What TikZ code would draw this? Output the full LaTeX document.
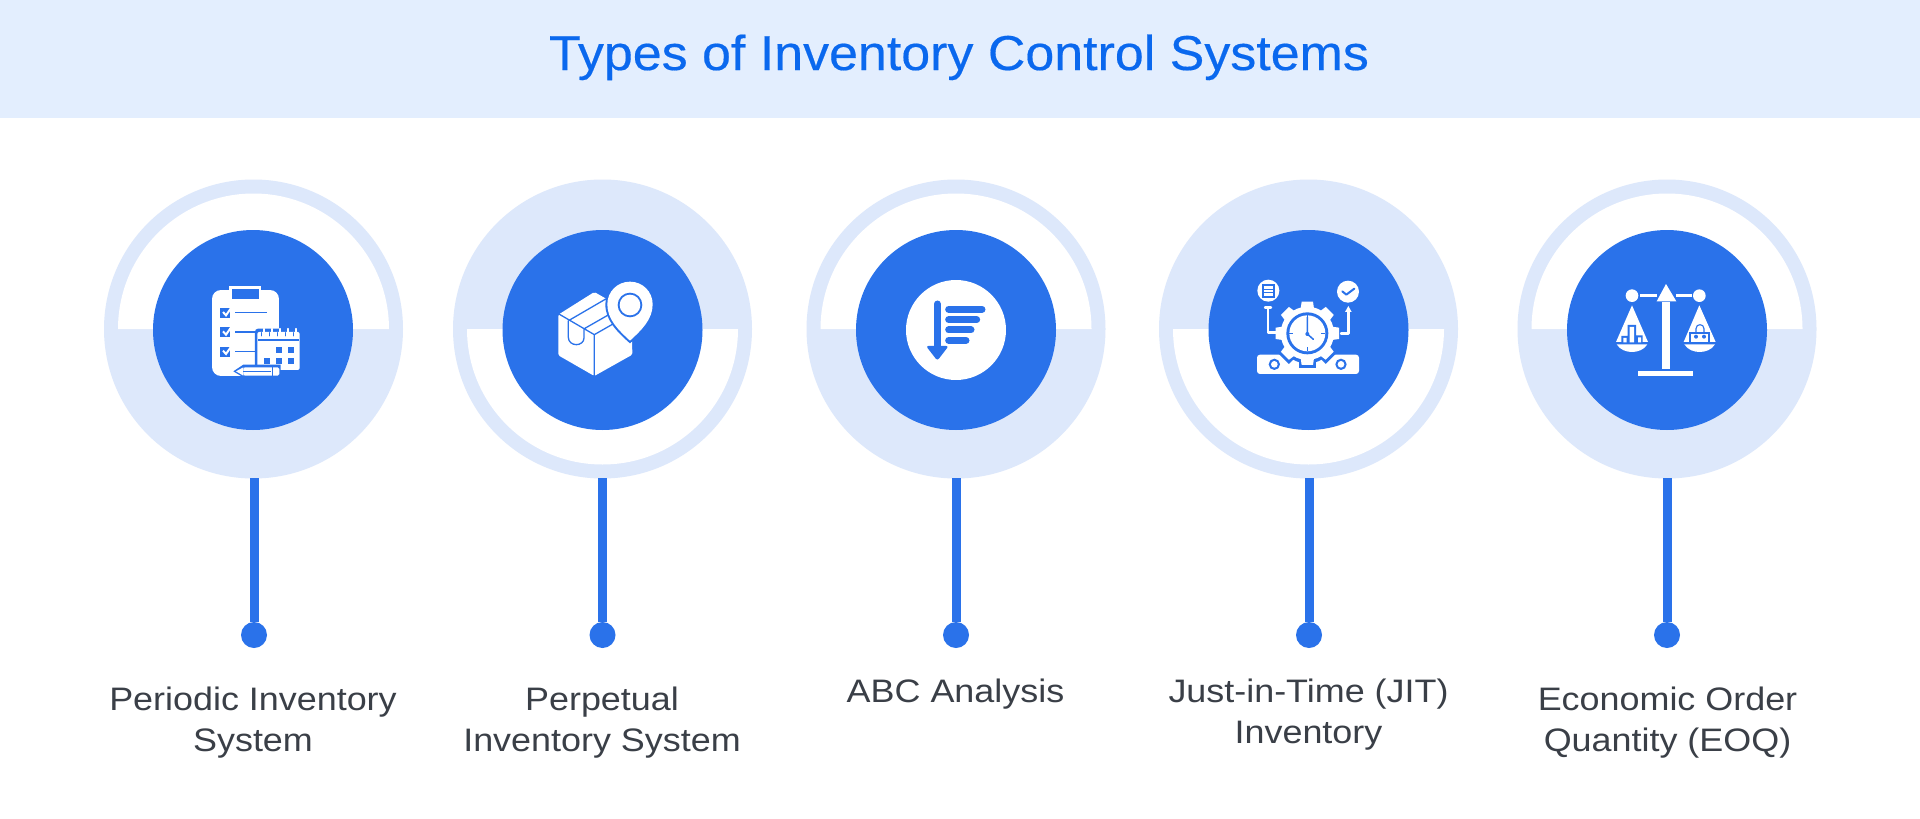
\documentclass[tikz,border=0pt]{standalone}
\usepackage{fontspec}
\setmainfont[FakeStretch=1.105]{Liberation Sans}
\newfontfamily\ttlfont[FakeBold=0.35,FakeStretch=1.06]{Liberation Sans}
\definecolor{hdr}{HTML}{E3EEFE}
\definecolor{ring}{HTML}{DDE8FB}
\definecolor{blu}{HTML}{2A72EA}
\definecolor{ttl}{HTML}{0A68EE}
\definecolor{txt}{HTML}{3A3F47}
\tikzset{
 lbl/.style={font=\fontsize{32.5}{41}\selectfont,text=txt,align=center,inner sep=0pt},
 hub/.style={circle,fill=blu,minimum size=200pt,inner sep=0pt},
 dotn/.style={circle,fill=blu,minimum size=26pt,inner sep=0pt},
 stem/.style={draw=blu,line width=9pt},
 icw/.style={draw=white,line width=2.4pt,line cap=round,line join=round},
}
\begin{document}
\begin{tikzpicture}[x=1pt,y=-1pt]
\useasboundingbox (0,0) rectangle (1920,819);
\fill[white] (0,0) rectangle (1920,819);
\fill[hdr] (0,0) rectangle (1920,118);
\node[font=\ttlfont\fontsize{49}{58}\selectfont,text=ttl,inner sep=0pt,anchor=base] (title) at (959,70) {Types of Inventory Control Systems};

% rings
\fill[ring] (253.5,329) circle (149.5);
\fill[white] (118,329) arc (180:360:135.5) -- cycle;
\fill[ring] (602.5,329) circle (149.5);
\fill[white] (467,329) arc (180:360:135.5 and -135.5) -- cycle;
\fill[ring] (956,329) circle (149.5);
\fill[white] (820.5,329) arc (180:360:135.5) -- cycle;
\fill[ring] (1308.5,329) circle (149.5);
\fill[white] (1173,329) arc (180:360:135.5 and -135.5) -- cycle;
\fill[ring] (1667,329) circle (149.5);
\fill[white] (1531.5,329) arc (180:360:135.5) -- cycle;

\node[hub] (h1) at (253,330) {};
\node[hub] (h2) at (602.5,330) {};
\node[hub] (h3) at (956,330) {};
\node[hub] (h4) at (1308.5,330) {};
\node[hub] (h5) at (1667,330) {};
\node[dotn] (d1) at (254,635) {};
\node[dotn] (d2) at (602.5,635) {};
\node[dotn] (d3) at (956,635) {};
\node[dotn] (d4) at (1309,635) {};
\node[dotn] (d5) at (1667,635) {};
\coordinate (s1) at (254,478);
\coordinate (s2) at (602.5,478);
\coordinate (s3) at (956,478);
\coordinate (s4) at (1309,478);
\coordinate (s5) at (1667,478);
\foreach \i in {1,...,5} \draw[stem] (s\i) -- (d\i);

\node[lbl] (t1) at (253,723) {Periodic Inventory\\System};
\node[lbl] (t2) at (602,723) {Perpetual\\Inventory System};
\node[lbl] (t3) at (955.5,694) {ABC Analysis};
\node[lbl] (t4) at (1308.5,715) {Just-in-Time (JIT)\\Inventory};
\node[lbl] (t5) at (1667.5,723) {Economic Order\\Quantity (EOQ)};

% icon 1: clipboard
\begin{scope}[shift={(190,270)},x=0.3333pt,y=-0.3333pt]
 \fill[white,rounded corners=9pt] (66,60) rectangle (267,318);
 \fill[white] (118,48) rectangle (214,62);
 \fill[blu] (127,56) rectangle (207,88);
 \foreach \yy in {114,172,230}{
  \fill[blu] (91,\yy) rectangle (121,\yy+30);
  \draw[draw=white,line width=2pt,line join=miter] (99,\yy+12) -- (108,\yy+22) -- (124,\yy-1);
 }
 \draw[draw=blu,line width=1.5pt] (136,127) -- (230,127) (136,186) -- (200,186) (136,244) -- (200,244);
 \fill[blu,rounded corners=3pt] (195,176) rectangle (335,306);
 \fill[white,rounded corners=2pt] (202,186) rectangle (329,300);
 \fill[blu] (204,208) rectangle (327,214);
 \foreach \px/\py in {258/232,294/232,222/264,258/264,294/264} \fill[blu] (\px,\py) rectangle (\px+18,\py+18);
 \foreach \px in {216,240,264,288,312} \draw[draw=blu,line width=1pt,line cap=round] (\px,188) -- (\px,198);
 \foreach \px in {222,246,270,294,318} \draw[draw=white,line width=1.5pt,line cap=round] (\px,176) -- (\px,190);
 % pencil
 \fill[blu] (130,304) -- (160,284) -- (272,284) -- (272,322) -- (160,322) -- cycle;
 \fill[white,rounded corners=1.5pt] (160,292) -- (268,292) -- (268,317) -- (160,317) -- cycle;
 \fill[white] (138,304) -- (160,292) -- (160,317) -- cycle;
 \draw[draw=blu,line width=0.9pt] (160,304) -- (244,304) (248,292) -- (248,317);
\end{scope}

% icon 2: box & pin
\begin{scope}[shift={(535,270)},x=0.3333pt,y=-0.3333pt]
 \fill[white,rounded corners=1.5pt] (70,134) -- (178,66) -- (290,130) -- (292,254) -- (178,318) -- (70,256) -- cycle;
 \draw[draw=blu,line width=1.3pt,line join=round]
   (70,131) -- (178,194) -- (178,318)
   (178,194) -- (290,130)
   (104,150) -- (214,86)
   (148,176) -- (218,136)
   (100,152) -- (100,202) .. controls (100,216) and (112,224) .. (124,224) .. controls (136,224) and (147,216) .. (147,204) -- (147,178);
 \fill[blu] (285,220) .. controls (245,185) and (211,150) .. (211,103) .. controls (211,62) and (244,29) .. (285,29) .. controls (326,29) and (359,62) .. (359,103) .. controls (359,150) and (325,185) .. (285,220) -- cycle;
 \fill[white] (285,212) .. controls (250,180) and (217,148) .. (217,103) .. controls (217,65) and (247,35) .. (285,35) .. controls (323,35) and (353,65) .. (353,103) .. controls (353,148) and (320,180) .. (285,212) -- cycle;
 \fill[blu] (285,105) circle (37);
 \fill[white] (285,105) circle (31);
\end{scope}

% icon 3: ABC sort
\begin{scope}[shift={(890,270)},x=0.3333pt,y=-0.3333pt]
 \fill[white] (198,180) circle (150);
 \draw[draw=blu,line width=7pt,line cap=round] (142,102) -- (142,240);
 \fill[blu,rounded corners=2.5pt] (108,228) -- (176,228) -- (142,272) -- cycle;
 \foreach \yy/\xe in {118/276,149/260,180/243,211/228}
  \draw[draw=blu,line width=7pt,line cap=round] (176,\yy) -- (\xe,\yy);
\end{scope}

% icon 4: gear & clock
\begin{scope}[shift={(1245,270)},x=0.3333pt,y=-0.3333pt]
 \fill[white,rounded corners=3pt] (36,254) rectangle (342,312);
 % gear halo
 \fill[blu] (187,190) circle (90);
 \foreach \a in {0,45,...,315}
  \fill[blu,rotate around={\a:(187,190)}] (161,86) rectangle (213,130);
 \fill[blu] (88,283) circle (17);
 \fill[blu] (288,283) circle (17);
 \fill[white] (88,283) circle (10);
 \fill[white] (288,283) circle (10);
 % gear
 \fill[white] (187,190) circle (80);
 \foreach \a in {0,45,...,315}
  \fill[white,rotate around={\a:(187,190)}] (170,95) -- (204,95) -- (209,130) -- (165,130) -- cycle;
 \fill[blu] (187,190) circle (63);
 \fill[white] (187,190) circle (54);
 \foreach \a in {0,90,180,270}
  \draw[draw=blu,line width=1.1pt,rotate around={\a:(187,190)}] (187,136) -- (187,148);
 \draw[draw=blu,line width=1.5pt,line cap=round,line join=round] (187,142) -- (187,192) -- (205,208);
 \fill[blu] (187,192) circle (6);
 % left doc
 \fill[white] (70,62) circle (33);
 \fill[blu] (50,42) rectangle (90,83);
 \fill[white] (56,47) rectangle (84,78);
 \draw[draw=blu,line width=1pt] (56,57) -- (84,57) (56,67) -- (84,67);
 \draw[icw] (69,112) -- (69,188) -- (92,188) (60,112) -- (78,112);
 % right check
 \fill[white] (309,65) circle (33);
 \draw[draw=blu,line width=2pt,line cap=round,line join=round] (292,64) -- (304,74) -- (328,56);
 \draw[icw] (288,190) -- (310,190) -- (310,118);
 \fill[white] (300,126) -- (310,108) -- (320,126) -- cycle;
\end{scope}

% icon 5: scales
\begin{scope}[shift={(1600,270)},x=0.3333pt,y=-0.3333pt]
 \fill[white] (115,304) rectangle (280,318);
 \fill[white] (187,95) rectangle (210,298);
 \fill[white] (198,42) -- (229,94) -- (170,94) -- cycle;
 \fill[white] (120,73) rectangle (170,81);
 \fill[white] (228,73) rectangle (276,81);
 \fill[white] (96,77) circle (19);
 \fill[white] (298,77) circle (19);
 % left pan
 \fill[white] (96,106) -- (144,216) -- (48,216) -- cycle;
 \fill[white] (50,223) -- (142,223) .. controls (132,240) and (112,246) .. (96,246) .. controls (80,246) and (60,240) .. (50,223) -- cycle;
 \fill[blu] (64,198) rectangle (83,217) (83,165) rectangle (108,217) (108,196) rectangle (128,217);
 \fill[white] (70,204) rectangle (80,217) (89,171) rectangle (102,217) (114,202) rectangle (123,217);
 % right pan
 \fill[white] (298,106) -- (347,216) -- (251,216) -- cycle;
 \fill[white] (253,223) -- (345,223) .. controls (335,240) and (315,246) .. (299,246) .. controls (283,246) and (263,240) .. (253,223) -- cycle;
 \fill[blu] (266,186) rectangle (330,216);
 \fill[white] (272,192) rectangle (324,216);
 \draw[draw=blu,line width=1.1pt] (288,190) -- (288,176) .. controls (288,160) and (312,160) .. (312,176) -- (312,190);
 \fill[blu] (288,200) circle (6) (312,200) circle (6);
\end{scope}
\end{tikzpicture}
\end{document}
